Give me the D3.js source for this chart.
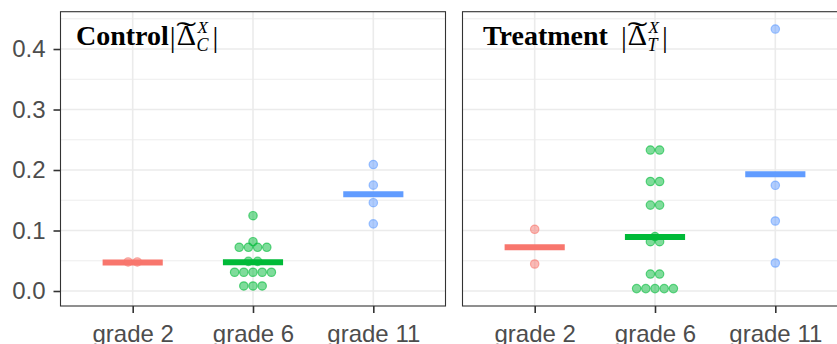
<!DOCTYPE html>
<html><head><meta charset="utf-8">
<script src="https://cdn.jsdelivr.net/npm/d3@7"></script>
<style>html,body{margin:0;padding:0;background:#fff;overflow:hidden}</style>
</head><body>
<svg id="chart" width="837" height="344"></svg>
<script>
// ---- data ----
const categories = ["grade 2", "grade 6", "grade 11"];
const colors = ["#F8766D", "#00BA38", "#619CFF"];
const yTicks = [0, 0.1, 0.2, 0.3, 0.4];
const yMinor = [0.05, 0.15, 0.25, 0.35, 0.45];

const controlGrade2 = [0.048, 0.048];
const controlGrade6 = [0.1245, 0.0815, 0.0722, 0.0722, 0.0722, 0.0722, 0.049, 0.049,
                       0.031, 0.031, 0.031, 0.031, 0.031, 0.0083, 0.0083, 0.0083];
const controlGrade11 = [0.209, 0.175, 0.146, 0.111];
const controlMeans = [0.047, 0.0476, 0.160];

const treatGrade2 = [0.102, 0.0446];
const treatGrade6 = [0.233, 0.233, 0.181, 0.181, 0.142, 0.142, 0.090, 0.0815, 0.0815,
                     0.028, 0.028, 0.004, 0.004, 0.004, 0.004, 0.004];
const treatGrade11 = [0.433, 0.1747, 0.1157, 0.0463];
const treatMeans = [0.0722, 0.0893, 0.193];

const panels = [
  {word: "Control", gap: 1, sub: "C", groups: [controlGrade2, controlGrade6, controlGrade11], means: controlMeans, x0: 60.5},
  {word: "Treatment", gap: 13, sub: "T", groups: [treatGrade2, treatGrade6, treatGrade11], means: treatMeans, x0: 462.5}
];

// ---- layout ----
const panelW = 385, pTop = 11.7, pBottom = 306;
const y = d3.scaleLinear().domain([-0.0248, 0.4617]).range([pBottom, pTop]);
const svg = d3.select("#chart");
const r = 4.2, spacing = 9.2;
const axisCol = "#4D4D4D";

panels.forEach((p, pi) => {
  const x = d3.scalePoint().domain(categories).range([p.x0, p.x0 + panelW]).padding(0.6);
  const g = svg.append("g");
  g.append("rect").attr("x", p.x0).attr("y", pTop).attr("width", panelW).attr("height", pBottom - pTop).attr("fill", "#fff");
  g.selectAll(".minor").data(yMinor).join("line")
    .attr("x1", p.x0).attr("x2", p.x0 + panelW).attr("y1", d => y(d)).attr("y2", d => y(d))
    .attr("stroke", "#EBEBEB").attr("stroke-width", 0.9);
  g.selectAll(".major").data(yTicks).join("line")
    .attr("x1", p.x0).attr("x2", p.x0 + panelW).attr("y1", d => y(d)).attr("y2", d => y(d))
    .attr("stroke", "#EBEBEB").attr("stroke-width", 1.6);
  g.selectAll(".vmajor").data(categories).join("line")
    .attr("x1", d => x(d)).attr("x2", d => x(d)).attr("y1", pTop).attr("y2", pBottom)
    .attr("stroke", "#EBEBEB").attr("stroke-width", 1.6);

  g.selectAll(".mean").data(p.means).join("line")
    .attr("x1", (d, i) => x(categories[i]) - x.step() * 0.25)
    .attr("x2", (d, i) => x(categories[i]) + x.step() * 0.25)
    .attr("y1", d => y(d)).attr("y2", d => y(d))
    .attr("stroke", (d, i) => colors[i]).attr("stroke-width", 6);

  p.groups.forEach((vals, ci) => {
    const counts = d3.rollup(vals, v => v.length, d => d);
    const seen = new Map();
    const pts = vals.map(v => {
      const n = counts.get(v);
      const k = seen.get(v) || 0; seen.set(v, k + 1);
      return {v, off: (k - (n - 1) / 2) * spacing};
    });
    g.selectAll(null).data(pts).join("circle")
      .attr("cx", d => x(categories[ci]) + d.off)
      .attr("cy", d => y(d.v))
      .attr("r", r)
      .attr("fill", colors[ci]).attr("fill-opacity", 0.5)
      .attr("stroke", colors[ci]).attr("stroke-opacity", 0.6).attr("stroke-width", 1.2);
  });

  g.append("rect").attr("x", p.x0).attr("y", pTop).attr("width", panelW).attr("height", pBottom - pTop)
    .attr("fill", "none").attr("stroke", "#333333").attr("stroke-width", 1.1);

  const xa = g.append("g").attr("transform", `translate(0,${pBottom})`)
    .call(d3.axisBottom(x).tickSize(7).tickPadding(12));
  xa.select(".domain").remove();
  xa.selectAll(".tick line").attr("stroke", "#333333").attr("stroke-width", 1.6);
  xa.selectAll(".tick text").attr("font-family", "Liberation Sans, Arial, sans-serif")
    .attr("font-size", 24).attr("fill", axisCol).attr("dy", "0.71em");

  if (pi === 0) {
    const ya = g.append("g").attr("transform", `translate(${p.x0},0)`)
      .call(d3.axisLeft(y).tickValues(yTicks).tickFormat(d3.format(".1f")).tickSize(7).tickPadding(8));
    ya.select(".domain").remove();
    ya.selectAll(".tick line").attr("stroke", "#333333").attr("stroke-width", 1.6);
    ya.selectAll(".tick text").attr("font-family", "Liberation Sans, Arial, sans-serif")
      .attr("font-size", 24).attr("fill", axisCol);
  }

  const ff = "Liberation Serif, Times New Roman, serif";
  const tx = p.x0 + (pi === 0 ? 15.5 : 20.5);
  const base = 45;
  const t1 = g.append("text").attr("x", tx).attr("y", base).attr("font-family", ff)
    .attr("font-size", 28).attr("font-weight", "bold").attr("fill", "#000").text(p.word);
  let cx = tx + t1.node().getComputedTextLength() + p.gap;
  const b1 = g.append("text").attr("x", cx).attr("y", base + 2).attr("font-family", ff)
    .attr("font-size", 29).attr("fill", "#000").text("|");
  cx += b1.node().getComputedTextLength() + 1;
  const dl = g.append("text").attr("x", cx).attr("y", base).attr("font-family", ff)
    .attr("font-size", 30).attr("fill", "#000").text("Δ");
  const dw = dl.node().getComputedTextLength();
  g.append("text").attr("transform", `translate(${cx + dw / 2},${base - 3}) scale(2,1)`)
    .attr("text-anchor", "middle").attr("font-family", ff).attr("font-size", 30).attr("fill", "#000").text("˜");
  cx += dw + 1.5;
  const sx = g.append("text").attr("x", cx).attr("y", base - 12).attr("font-family", ff)
    .attr("font-size", 17).attr("font-style", "italic").attr("fill", "#000").text("X");
  const sc = g.append("text").attr("x", cx - 1).attr("y", base + 6).attr("font-family", ff)
    .attr("font-size", 18).attr("font-style", "italic").attr("fill", "#000").text(p.sub);
  cx += Math.max(sx.node().getComputedTextLength(), sc.node().getComputedTextLength()) + 3;
  g.append("text").attr("x", cx).attr("y", base + 2).attr("font-family", ff)
    .attr("font-size", 29).attr("fill", "#000").text("|");
});
</script>
</body></html>
